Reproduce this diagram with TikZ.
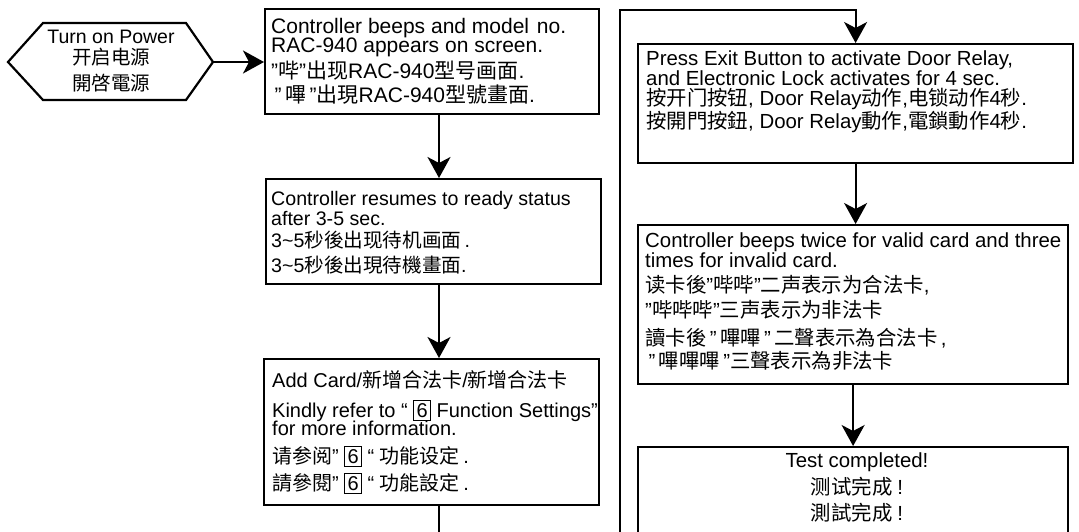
\documentclass[tikz,border=0pt]{standalone}
\usepackage{fontspec}
\setmainfont{Liberation Sans}
\newfontfamily\cjkS{Noto Sans CJK SC}
\newfontfamily\cjkT{Noto Sans CJK TC}
\newcommand\zs[1]{{\cjkS #1}}
\newcommand\zt[1]{{\cjkT #1}}
\newcommand\six{{\fboxsep=2.4pt\fboxrule=0.9pt\fbox{6}}}
\newcommand\fsz[2]{\fontsize{#1}{#2}\selectfont\lineskiplimit=-50pt\relax\lineskip=0pt\relax}
\usetikzlibrary{arrows.meta,calc}
\tikzset{
  x=1pt, y=-1pt,
  conn/.style={line width=2.2pt},
  arr/.style={line width=2.2pt, -{Stealth[length=21pt,width=23pt,inset=6pt]}},
  stepbox/.style={draw, line width=2.2pt, anchor=north west, inner sep=0pt},
  txt/.style={anchor=north west, inner sep=0pt, align=left, font=\fsz{20.4}{18}},
  ctxt/.style={txt, align=center},
}
\begin{document}
\begin{tikzpicture}
\useasboundingbox (0,0) rectangle (1079,531);
\clip (0,0) rectangle (1079,531);

% start hexagon
\draw[conn, line join=miter] (8,62) -- (43,23) -- (186,23) -- (213,62) -- (186,100) -- (43,100) -- cycle;
\coordinate (ptip) at (213,62);
\node[ctxt, anchor=center, font=\fsz{19.5}{18}] (pw) at (111,61) {Turn on Power\\[3pt]\zs{开启电源}\\[8pt]\zt{開啓電源}};

% left column boxes
\node[stepbox, minimum width=334pt, minimum height=105pt] (b1) at (264,8) {};
\node[stepbox, minimum width=335pt, minimum height=105pt] (b2) at (265,178) {};
\node[stepbox, minimum width=335pt, minimum height=146pt] (b3) at (263,358) {};

% right column boxes
\node[stepbox, minimum width=435pt, minimum height=119pt] (b4) at (637,43) {};
\node[stepbox, minimum width=430pt, minimum height=159pt] (b5) at (637,224) {};
\node[stepbox, minimum width=430pt, minimum height=130pt] (b6) at (637,446) {};

% texts
\node[txt, font=\fsz{21}{19.5}] (t1) at ($(b1.north west)+(7,10)$) {Controller beeps and model\hspace{2pt} no.\\RAC-940 appears on screen.\\[6pt]"\zs{哔}"\zs{出现}RAC-940\zs{型号画面}.\\[4.5pt]\,"\,\zt{嗶}\,"\zt{出現}RAC-940\zt{型號畫面}.};

\node[txt, font=\fsz{19.6}{18}] (t2) at ($(b2.north west)+(6,13)$) {Controller resumes to ready status\\[2pt]after 3-5 sec.\\[4pt]3\textasciitilde5\zs{秒後出现待机画面}\,.\\[7pt]3\textasciitilde5\zt{秒後出現待機畫面}.};

\node[txt, font=\fsz{20}{18}] (t3) at ($(b3.north west)+(9,12)$) {Add Card/\zs{新增合法卡}/\zs{新增合法卡}\\[12pt]Kindly refer to “ \six\ Function Settings”\\[0.5pt]for more information.\\[10pt]\zs{请参阅}” \six\ “ \zs{功能设定}\,.\\[9pt]\zt{請參閱}” \six\ “ \zt{功能設定}\,.};

\node[txt] (t4) at ($(b4.north west)+(9,8)$) {Press Exit Button to activate Door Relay,\\[1.5pt]and Electronic Lock activates for 4 sec.\\[2.5pt]\zs{按开门按钮}, Door Relay\zs{动作},\zs{电锁动作}4\zs{秒}.\\[5pt]\zt{按開門按鈕}, Door Relay\zt{動作},\zt{電鎖動作}4\zt{秒}.};

\node[txt] (t5) at ($(b5.north west)+(8,9)$) {Controller beeps twice for valid card and three\\[2pt]times for invalid card.\\[7pt]\zs{读卡後}"\zs{哔哔}"\zs{二声表示为合法卡},\\[7pt]"\zs{哔哔哔}"\zs{三声表示为非法卡}\\[10pt]\zt{讀卡後}\,"\,\zt{嗶嗶}\,"\,\zt{二聲表示為合法卡}\,,\\[5pt]\,"\,\zt{嗶嗶嗶}\,"\zt{三聲表示為非法卡}};

\node[ctxt, anchor=north] (t6) at (857,453) {Test completed!\\[9pt]\zs{测试完成}\hspace{5pt}!\\[8pt]\zt{測試完成}\hspace{5pt}!};

% connectors
\coordinate (colL) at (439,0);
\coordinate (bot) at (0,545);
\coordinate (lp) at (620,545);
\coordinate (lt) at (620,10);

\draw[arr] (ptip) -- (b1.west |- ptip);
\draw[arr] (b1.south -| colL) -- (b2.north -| colL);
\draw[arr] (b2.south -| colL) -- (b3.north -| colL);
\draw[conn] (b3.south -| colL) -- (colL |- bot);
\draw[arr, line join=miter] (lp) -- (lt) -- (lt -| b4.north) -- (b4.north);
\draw[arr] (b4.south) -- (b4.south |- b5.north);
\draw[arr] (b5.south) -- (b6.north);
\end{tikzpicture}
\end{document}
